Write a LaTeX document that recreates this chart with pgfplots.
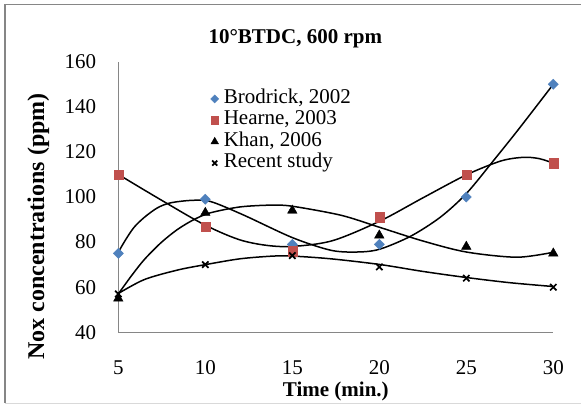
\documentclass[border=0pt]{standalone}
\usepackage{pgfplots}
\pgfplotsset{compat=1.18}
\usepackage{fontspec}
\setmainfont{Liberation Serif}
\definecolor{bblue}{HTML}{4F81BD}
\definecolor{rred}{HTML}{C0504D}
\definecolor{axgray}{HTML}{868686}
\newcommand{\bigf}{\fontsize{21bp}{25bp}\selectfont}
\begin{document}
\begin{tikzpicture}
\useasboundingbox (0,0) rectangle (581bp,405bp);
\fill[white] (0,0) rectangle (581bp,405bp);
\draw[axgray, line width=1.2bp] (5bp,2bp) -- (5bp,400.5bp) -- (581bp,400.5bp);
\draw[black!15, line width=1bp] (5bp,1.5bp) -- (581bp,1.5bp);
\node[font=\bigf\bfseries] at (295.3bp,366.7bp) {10°BTDC, 600 rpm};
\node[font=\fontsize{24bp}{28bp}\selectfont\bfseries, rotate=90] at (38.3bp,178.5bp) {Nox concentrations (ppm)};
\begin{axis}[
  at={(118.3bp,72.7bp)}, anchor=south west,
  width=435bp, height=270.6bp, scale only axis,
  xmin=5, xmax=30, ymin=40, ymax=160,
  xtick={5,10,15,20,25,30}, ytick={40,60,80,100,120,140,160},
  axis x line*=bottom, axis y line*=left,
  axis line style={axgray, line width=1.3bp, -},
  major tick length=0pt,
  ticklabel style={font=\bigf, inner sep=0pt},
  yticklabel style={anchor=east, xshift=-22bp},
  xticklabel style={anchor=center, yshift=-35bp},
  /pgf/number format/assume math mode=true,
  xlabel={Time (min.)},
  xlabel style={font=\bigf\bfseries, at={(axis description cs:0.5,0)}, anchor=center, yshift=-59bp},
  clip=false,
  legend style={draw=none, fill=none, at={(0.205,0.9076)}, anchor=north west,
    font=\bigf, cells={anchor=west}, row sep=1.4bp,
    nodes={inner sep=0.5bp, text height=14bp, text depth=5bp},
    /tikz/every odd column/.append style={column sep=4.5bp}},
  legend image code/.code={\draw[#1, /tikz/every mark/.append style={scale=0.8}] plot coordinates {(0bp,0bp)};},
]
\addplot[only marks, mark=square*, mark size=3.6bp, mark options={rotate=45, fill=bblue, draw=bblue}] coordinates {(5,75) (10,99) (15,79) (20,79) (25,100) (30,150)};
\addlegendentry{Brodrick, 2002}
\addplot[only marks, mark=square*, mark size=4.6bp, mark options={fill=rred, draw=rred}] coordinates {(5,110) (10,87) (15,76) (20,91) (25,110) (30,115)};
\addlegendentry{Hearne, 2003}
\addplot[only marks, mark=triangle*, mark size=5.5bp, mark options={fill=black, draw=black}] coordinates {(5,55) (10,93) (15,94) (20,83) (25,78) (30,75)};
\addlegendentry{Khan, 2006}
\addplot[only marks, mark=x, mark size=4.5bp, mark options={draw=black, line width=1.7bp}] coordinates {(5,57) (10,70) (15,74) (20,69) (25,64) (30,60)};
\addlegendentry{Recent study}
% trend lines
\addplot[forget plot, black, line width=1.5bp, smooth, no marks] coordinates {(5,75.5) (5.4,80.8) (5.9,86.5) (6.5,91) (7.25,95.2) (8,97.4) (9.2,98.5) (10.3,98) (12.2,92) (15,82) (17.2,76.4) (18.7,75.6) (20,76.8) (21.8,82.6) (23.5,91) (25,101.5) (26.6,116.5) (28,130) (30,150)};
\addplot[forget plot, black, line width=1.5bp, smooth, no marks] coordinates {(5,110) (7.5,98.5) (10,87.5) (12.2,80.5) (14.5,78) (17.2,80.4) (20,89.2) (22.5,99.6) (25,109.8) (27,116) (28.3,117.6) (29.2,117) (30,115)};
\addplot[forget plot, black, line width=1.5bp, smooth, no marks] coordinates {(5,57) (5.75,65) (6.5,72.3) (7.45,79.7) (8.4,85.6) (9.35,90) (10.3,93) (12,95.6) (13.8,96.4) (15,95.9) (17.8,91.9) (20,86.6) (22.5,80.5) (25,75.6) (27.9,73.3) (30,75.5)};
\addplot[forget plot, black, line width=1.5bp, smooth, no marks] coordinates {(5,57.2) (6.5,63.4) (8.4,67.6) (10,70) (12,72.6) (13.9,73.8) (15,73.8) (17.2,72.6) (20,70.1) (22.5,67) (25,64.3) (27.5,62) (30,60.3)};
\end{axis}
\end{tikzpicture}
\end{document}
